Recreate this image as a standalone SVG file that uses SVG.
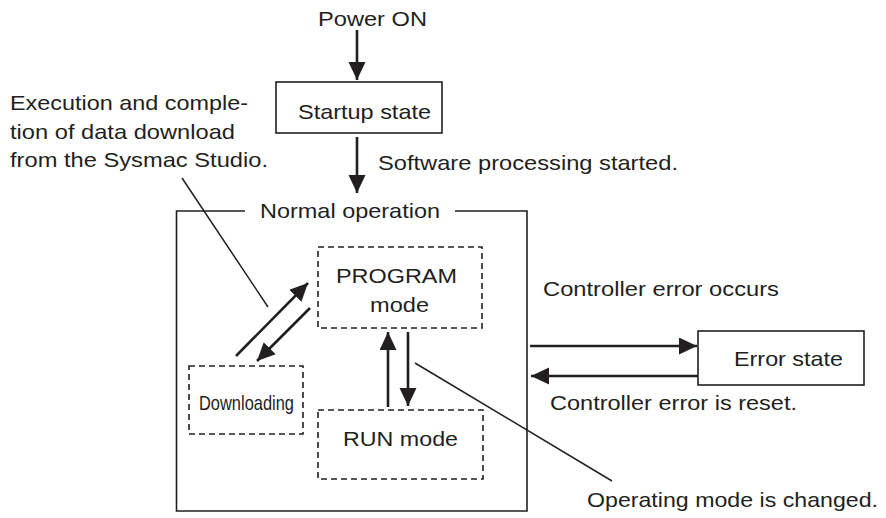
<svg xmlns="http://www.w3.org/2000/svg" width="886" height="518" viewBox="0 0 886 518">
<style>
text{font-family:"Liberation Sans",Arial,Helvetica,sans-serif;font-size:21px;fill:#231f20}
.solid{fill:#fff;stroke:#231f20;stroke-width:1.6}
.dash{fill:none;stroke:#231f20;stroke-width:1.6;stroke-dasharray:6 4}
.arr{fill:none;stroke:#231f20;stroke-width:2.6;marker-end:url(#ah)}
.lead{fill:none;stroke:#231f20;stroke-width:1.5}
</style>
<defs>
<marker id="ah" markerUnits="userSpaceOnUse" markerWidth="20" markerHeight="20" refX="18" refY="8.5" orient="auto">
<path d="M0,0 L18,8.5 L0,17 Z" fill="#231f20"/>
</marker>
</defs>
<rect width="886" height="518" fill="#fff"/>
<g id="power-on"><text x="318" y="26" textLength="109" lengthAdjust="spacingAndGlyphs">Power ON</text></g>
<g id="startup">
<rect class="solid" x="276" y="82" width="166" height="51"/>
<text x="298" y="119" textLength="133" lengthAdjust="spacingAndGlyphs">Startup state</text>
</g>
<g id="normal-operation">
<path class="solid" fill="none" d="M245,211 H176.5 V511 H527 V211 H455"/>
<text x="260" y="218" textLength="180" lengthAdjust="spacingAndGlyphs">Normal operation</text>
</g>
<g id="program-mode">
<rect class="dash" x="318" y="247" width="164" height="81"/>
<text x="336" y="283" textLength="121" lengthAdjust="spacingAndGlyphs">PROGRAM</text>
<text x="370" y="312" textLength="59" lengthAdjust="spacingAndGlyphs">mode</text>
</g>
<g id="downloading">
<rect class="dash" x="189" y="366" width="114" height="68"/>
<text x="199" y="410" textLength="95" lengthAdjust="spacingAndGlyphs">Downloading</text>
</g>
<g id="run-mode">
<rect class="dash" x="318" y="410" width="165" height="69"/>
<text x="343" y="446" textLength="115" lengthAdjust="spacingAndGlyphs">RUN mode</text>
</g>
<g id="error-state">
<rect class="solid" x="698" y="331" width="166" height="54"/>
<text x="734" y="366" textLength="109" lengthAdjust="spacingAndGlyphs">Error state</text>
</g>
<g id="labels">
<text x="10" y="110" textLength="238" lengthAdjust="spacingAndGlyphs">Execution and comple-</text>
<text x="10" y="139" textLength="225" lengthAdjust="spacingAndGlyphs">tion of data download</text>
<text x="10" y="167" textLength="258" lengthAdjust="spacingAndGlyphs">from the Sysmac Studio.</text>
<text x="378" y="170" textLength="300" lengthAdjust="spacingAndGlyphs">Software processing started.</text>
<text x="543" y="296" textLength="236" lengthAdjust="spacingAndGlyphs">Controller error occurs</text>
<text x="550" y="410" textLength="247" lengthAdjust="spacingAndGlyphs">Controller error is reset.</text>
<text x="587" y="507" textLength="291" lengthAdjust="spacingAndGlyphs">Operating mode is changed.</text>
</g>
<g id="connectors">
<line class="arr" x1="357" y1="30" x2="357" y2="80"/>
<line class="arr" x1="357" y1="137" x2="357" y2="193"/>
<line class="arr" x1="236" y1="356" x2="308" y2="283"/>
<line class="arr" x1="310" y1="308" x2="257" y2="361"/>
<line class="arr" x1="388" y1="407" x2="388" y2="332"/>
<line class="arr" x1="408" y1="332" x2="408" y2="406"/>
<line class="arr" x1="530" y1="346" x2="697" y2="346"/>
<line class="arr" x1="698" y1="376" x2="531" y2="376"/>
<line class="lead" x1="182" y1="178" x2="268" y2="307"/>
<line class="lead" x1="415" y1="363" x2="612" y2="481"/>
</g>
</svg>
